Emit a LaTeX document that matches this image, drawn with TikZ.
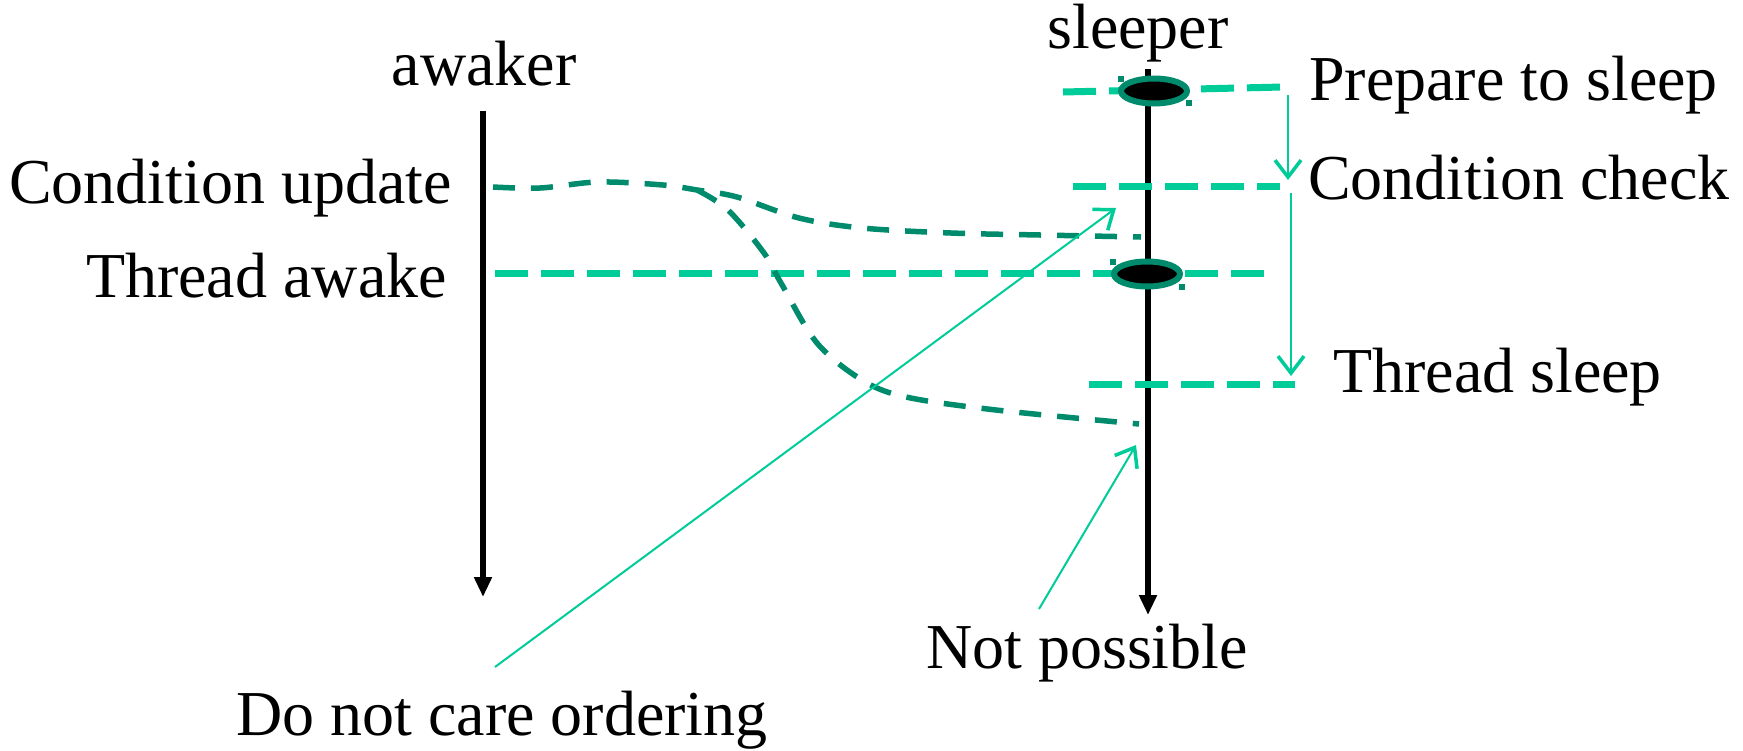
\documentclass[tikz,border=0pt]{standalone}
\usepackage{fontspec}
\setmainfont{Liberation Serif}
\usetikzlibrary{arrows.meta,shapes.geometric}
\definecolor{lgreen}{HTML}{00CC99}
\definecolor{dgreen}{HTML}{008C6C}
\begin{document}
\begin{tikzpicture}[x=1pt,y=-1pt,
  lbl/.style={font=\fontsize{64}{72}\selectfont, inner sep=0pt},
  tline/.style={line width=5.5pt, -{Triangle[length=20pt,width=17pt]}},
  lgdash/.style={draw=lgreen, line width=7pt, dash pattern=on 33pt off 13pt},
  dgdash/.style={draw=dgreen, line width=5.5pt, dash pattern=on 22pt off 16pt},
  thinarr/.style={draw=lgreen, line width=2pt, -{Straight Barb[length=17pt,width=26pt,line width=3.5pt]}},
  evt/.style={ellipse, draw=dgreen, fill=black, line width=6pt, minimum width=66pt, minimum height=25pt, inner sep=0pt},
  handle/.style={fill=dgreen}]
\path[use as bounding box] (0,0) rectangle (1743,750);

% labels
\node[lbl, anchor=base] (awaker) at (484,85) {awaker};
\node[lbl, anchor=base] (sleeper) at (1138,48) {sleeper};
\node[lbl, anchor=base east] (cu) at (452,203) {Condition update};
\node[lbl, anchor=base east] (ta) at (447,297) {Thread awake};
\node[lbl, anchor=base west] (ps) at (1309,100) {Prepare to sleep};
\node[lbl, anchor=base west] (cc) at (1308,199) {Condition check};
\node[lbl, anchor=base west] (ts) at (1333,392) {Thread sleep};
\node[lbl, anchor=base] (np) at (1087,668) {Not possible};
\node[lbl, anchor=base] (dnc) at (502,735) {Do not care ordering};

% timelines
\coordinate (aw-top) at (483,111);
\coordinate (aw-bot) at (483,597);
\coordinate (sl-top) at (1148,69);
\coordinate (sl-bot) at (1148,615);
\draw[tline] (aw-top) -- (aw-bot);
\draw[tline] (sl-top) -- (sl-bot);

% green dashed levels
\coordinate (ps-l) at (1063,92);
\coordinate (ps-r) at (1283,87);
\coordinate (cc-l) at (1073,186);
\coordinate (cc-r) at (1280,186);
\coordinate (ta-l) at (495,273);
\coordinate (ta-r) at (1273,273);
\coordinate (ts-l) at (1089,384);
\coordinate (ts-r) at (1295,384);
\draw[lgdash] (ps-l) -- (ps-r);
\draw[lgdash] (cc-l) -- (cc-r);
\draw[lgdash] (ta-l) -- (ta-r);
\draw[lgdash] (ts-l) -- (ts-r);

% events
\node[evt] (e1) at (1154,91) {};
\node[evt] (e2) at (1147,274) {};
\fill[handle] (1118,76) rectangle +(6,6);
\fill[handle] (1186,100) rectangle +(6,6);
\fill[handle] (1110,259) rectangle +(6,6);
\fill[handle] (1179,284) rectangle +(6,6);

% sequence arrows on the right
\coordinate (s1a) at (1288,95);
\coordinate (s1b) at (1288,180);
\coordinate (s2a) at (1291,193);
\coordinate (s2b) at (1291,376);
\draw[thinarr] (s1a) -- (s1b);
\draw[thinarr] (s2a) -- (s2b);

% dark green dashed curves
\coordinate (cu-start) at (493,187);
\coordinate (up-end) at (1141,237);
\coordinate (lo-end) at (1139,424);
\draw[dgdash] plot[smooth, tension=0.55] coordinates {(493,187) (540,188) (598,182) (663,185) (697,190) (737,197) (799,218) (862,228) (951,233) (1040,235) (1141,237)};
\draw[dgdash] plot[smooth, tension=0.55] coordinates {(697,190) (728,210) (764,253) (781,283) (817,343) (862,380) (906,397) (996,410) (1139,424)};

% pointer arrows
\coordinate (dnc-from) at (495,667);
\coordinate (dnc-to) at (1116,208);
\coordinate (np-from) at (1039,609);
\coordinate (np-to) at (1136,445);
\draw[thinarr] (dnc-from) -- (dnc-to);
\draw[thinarr] (np-from) -- (np-to);
\end{tikzpicture}
\end{document}
